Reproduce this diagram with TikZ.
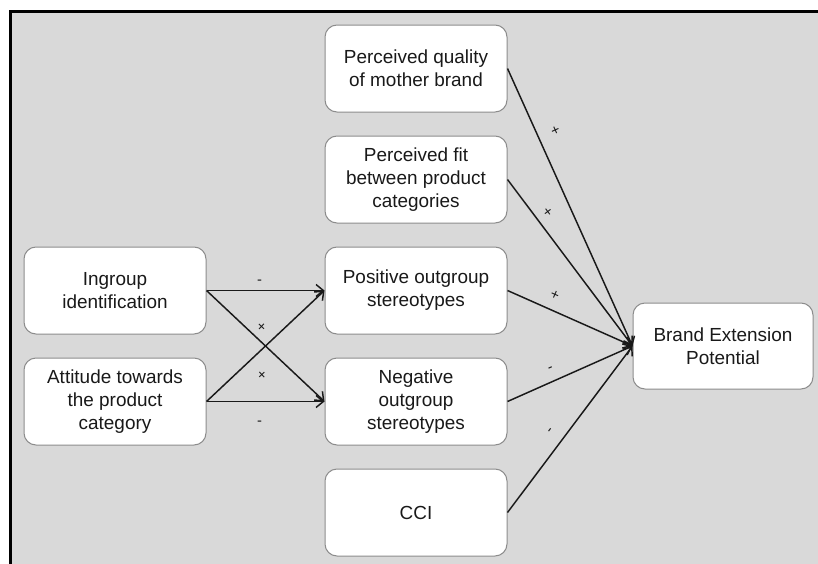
\documentclass[tikz,border=0pt]{standalone}
\usepackage{fontspec}
\setmainfont{Liberation Sans}
\usepackage{tikz}
\usetikzlibrary{positioning}
\usetikzlibrary{arrows.meta}
\usetikzlibrary{calc}
\usetikzlibrary{math}
\definecolor{bggray}{HTML}{D9D9D9}
\definecolor{boxline}{HTML}{8C8C8C}
\tikzstyle{box} = [rectangle, rounded corners=9pt, minimum width=136.5pt, minimum height=65.25pt, align=center, draw=boxline, line width=0.75pt, fill=white, text=black!90, font=\fontsize{14.2pt}{17.25pt}\selectfont]
\tikzstyle{arrow} = [-{Straight Barb[length=5.5pt,width=9pt]}, line width=1.1pt, draw=black!90]
\tikzstyle{sign} = [sloped, inner sep=0pt, text=black!90, font=\fontsize{11pt}{11pt}\selectfont]

\begin{document}
\begin{tikzpicture}[x=0.75pt, y=-0.75pt, node distance=17.25pt]

  \tikzmath{\hgap = 88.5; \rgap = 93.75;}

  % frame
  \useasboundingbox (0,0) rectangle (818,564);
  \fill[bggray] (12,13) rectangle (818,564);
  \draw[line width=2.25pt] (10.5,564) -- (10.5,11.5) -- (818,11.5);

  % middle column
  \node[box] (pos) at (416,290.5) {Positive outgroup\\stereotypes};
  \node[box, above=of pos] (fit) {Perceived fit\\between product\\categories};
  \node[box, above=of fit] (quality) {Perceived quality\\of mother brand};
  \node[box, below=of pos] (neg) {Negative\\outgroup\\stereotypes};
  \node[box, below=of neg] (cci) {CCI};

  % left column
  \node[box, left=\hgap pt of pos] (ingroup) {Ingroup\\identification};
  \node[box, left=\hgap pt of neg] (attitude) {Attitude towards\\the product\\category};

  % outcome
  \coordinate (mid) at ($(pos.east)!0.5!(neg.east)$);
  \node[box, minimum width=135pt, minimum height=64.5pt, right=\rgap pt of mid] (brand) {Brand Extension\\Potential};

  % left arrows
  \draw[arrow] (ingroup.east) -- node[sign, pos=0.45, above=3.7pt] {-} (pos.west);
  \draw[arrow] (ingroup.east) -- node[sign, pos=0.4, above=4.4pt] {+} (neg.west);
  \draw[arrow] (attitude.east) -- node[sign, pos=0.36, below=10.9pt] {+} (pos.west);
  \draw[arrow] (attitude.east) -- node[sign, pos=0.45, below=13.8pt] {-} (neg.west);

  % right arrows
  \draw[arrow] (quality.east) -- node[sign, pos=0.25, above=9.4pt] {+} (brand.west);
  \draw[arrow] (fit.east) -- node[sign, pos=0.24, above=5.4pt] {+} (brand.west);
  \draw[arrow] (pos.east) -- node[sign, pos=0.33, above=7.2pt] {+} (brand.west);
  \draw[arrow] (neg.east) -- node[sign, pos=0.385, above=6.4pt] {-} (brand.west);
  \draw[arrow] (cci.east) -- node[sign, pos=0.44, above=8.4pt] {-} (brand.west);

\end{tikzpicture}
\end{document}
